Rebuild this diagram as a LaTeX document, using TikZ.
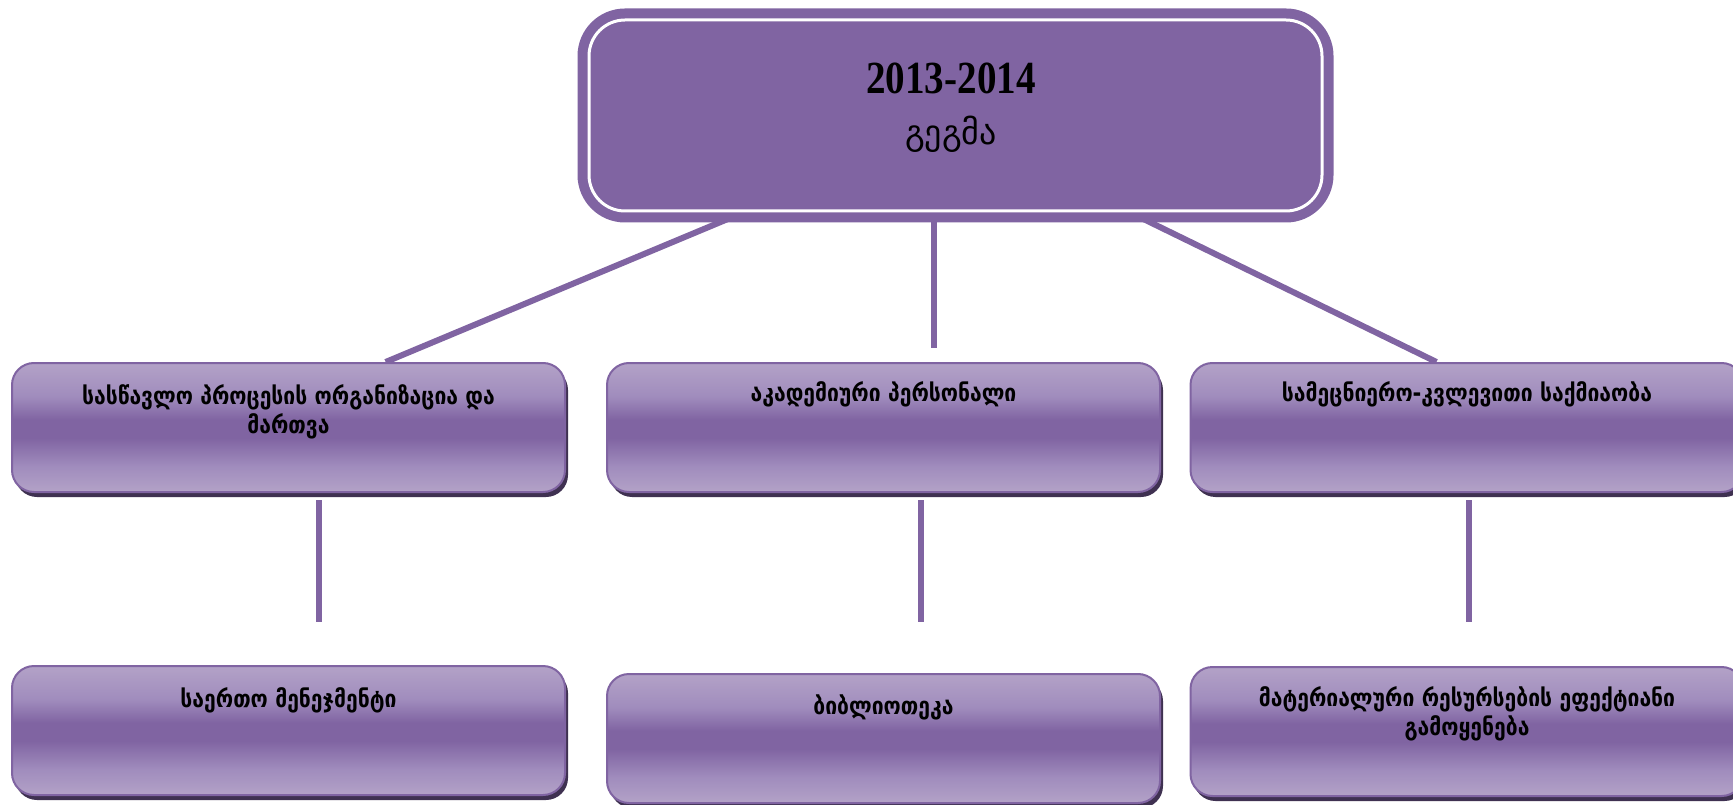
\documentclass[tikz,border=0pt]{standalone}
\usepackage{fontspec}
\usetikzlibrary{shadows,calc}
\newfontfamily\geofont[FakeStretch=0.88]{DejaVu Sans}
\newfontfamily\geotop{DejaVu Sans}
\newfontfamily\numfont[FakeStretch=0.85]{Liberation Serif}
\definecolor{purp}{HTML}{8064A2}
\definecolor{purplt}{HTML}{B3A2C7}
\definecolor{purpmid}{HTML}{A08CBD}
\definecolor{shadowc}{HTML}{3F3151}
\pgfdeclareverticalshading{boxshade}{100bp}{color(0bp)=(purplt); color(25bp)=(purplt); color(35bp)=(purpmid); color(46bp)=(purp); color(53bp)=(purp); color(62bp)=(purpmid); color(75bp)=(purplt); color(100bp)=(purplt)}
\pgfdeclarelayer{bg}
\pgfsetlayers{bg,main}
\begin{document}
\begin{tikzpicture}[x=1pt,y=-1pt,
  box/.style={draw=purp, line width=2pt, rounded corners=22pt, shade, shading=boxshade,
    minimum width=553pt, minimum height=129pt, inner sep=0pt,
    drop shadow={shadow xshift=3pt, shadow yshift=-5pt, fill=shadowc, opacity=1}},
  boxtext/.style={font=\geofont\bfseries\fontsize{24}{29}\selectfont, align=center, anchor=base, inner sep=0pt},
  conn/.style={draw=purp, line width=6pt},
  topbox/.style={draw=purp, double=white, double distance=3pt, line width=10pt, fill=purp,
    rounded corners=36pt, minimum width=733pt, minimum height=191pt, inner sep=0pt}]
\useasboundingbox (0,0) rectangle (1733,805);
% top
\node[topbox] (top) at (955.5,115.5) {};
\node[font=\numfont\bfseries\fontsize{46}{50}\selectfont, anchor=base, inner sep=0pt] (year) at (951,94) {2013-2014};
\node[font=\geotop\fontsize{34}{38}\selectfont, anchor=base, inner sep=0pt] (plan) at (951,145) {გეგმა};
% row 1
\node[box] (c1) at (288.5,427.5) {};
\node[boxtext] (c1t) at (288.5,433) {სასწავლო პროცესის ორგანიზაცია და\\მართვა};
\node[box] (c2) at (883.5,427.5) {};
\node[boxtext] (c2t) at (883.5,401) {აკადემიური პერსონალი};
\node[box] (c3) at (1467,427.5) {};
\node[boxtext] (c3t) at (1467,401) {სამეცნიერო-კვლევითი საქმიაობა};
% row 2
\node[box] (d1) at (288.5,730.5) {};
\node[boxtext] (d1t) at (288.5,707) {საერთო მენეჯმენტი};
\node[box] (d2) at (883.5,738.5) {};
\node[boxtext] (d2t) at (883.5,714) {ბიბლიოთეკა};
\node[box] (d3) at (1467,731.5) {};
\node[boxtext] (d3t) at (1467,735) {მატერიალური რესურსების ეფექტიანი\\გამოყენება};
% connectors
\begin{pgfonlayer}{bg}
\coordinate (t1) at (747,211);
\coordinate (t2) at (934,211);
\coordinate (t3) at (1127,211);
\coordinate (m2) at (934,348);
\draw[conn] (t1) -- ($(c1.north west)!0.675!(c1.north east)$);
\draw[conn] (t2) -- (m2);
\draw[conn] (t3) -- ($(c3.north west)!0.445!(c3.north east)$);
\coordinate (v1a) at (319,500); \coordinate (v1b) at (319,622);
\coordinate (v2a) at (921,500); \coordinate (v2b) at (921,622);
\coordinate (v3a) at (1469,500); \coordinate (v3b) at (1469,622);
\draw[conn] (v1a) -- (v1b);
\draw[conn] (v2a) -- (v2b);
\draw[conn] (v3a) -- (v3b);
\end{pgfonlayer}
\end{tikzpicture}
\end{document}
